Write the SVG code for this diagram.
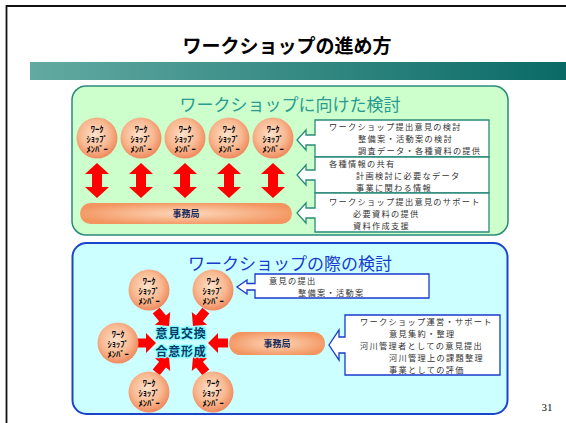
<svg xmlns="http://www.w3.org/2000/svg" width="566" height="423" viewBox="0 0 566 423">
<defs>
<style>
.jp{font-family:"Noto Sans CJK JP","Noto Sans",sans-serif}
.title{font-size:19px;font-weight:bold;fill:#000}
.sec1{font-size:17px;fill:#2a9a90}
.sec2{font-size:17px;fill:#1a3ccc}
.call{font-size:8.2px;letter-spacing:1.3px;fill:#333}
.mem{font-size:8.5px;font-weight:bold;fill:#000;text-anchor:middle}
.jim{font-size:9px;font-weight:bold;fill:#1a2a5a;text-anchor:middle}
.cg{stroke:#2a8a7a;stroke-width:1.3;fill:#fff}
.cb{stroke:#1a3acc;stroke-width:1.3;fill:#fff}
.red{fill:#ff0000}
.ctr{font-size:12px;font-weight:bold;letter-spacing:0.8px;fill:#0a3a6a;stroke:#80ffff;stroke-width:2.5px;paint-order:stroke;stroke-linejoin:round;text-anchor:middle}
</style>
<linearGradient id="bar" x1="0" y1="0" x2="1" y2="0">
<stop offset="0" stop-color="#62aaa2"/>
<stop offset="1" stop-color="#0a6a66"/>
</linearGradient>
<radialGradient id="ball" cx="0.45" cy="0.42" r="0.6">
<stop offset="0" stop-color="#fde2cc"/>
<stop offset="0.6" stop-color="#f8b890"/>
<stop offset="1" stop-color="#f0855a"/>
</radialGradient>
<radialGradient id="pill" cx="0.5" cy="0.5" r="0.55">
<stop offset="0" stop-color="#fdd8bc"/>
<stop offset="1" stop-color="#f3955f"/>
</radialGradient>
<path id="darr" d="M0,-17.5 L12,-6.5 L5,-6.5 L5,6.5 L12,6.5 L0,17.5 L-12,6.5 L-5,6.5 L-5,-6.5 L-12,-6.5 Z"/>
<path id="rarr" d="M0,0 L-10,-10 L-10,-4.5 L-20,-4.5 L-20,4.5 L-10,4.5 L-10,10 Z"/>
<g id="member">
<circle r="20.5" fill="url(#ball)"/>
<text class="jp mem" x="0" y="-6">ﾜｰｸ</text>
<text class="jp mem" x="0" y="4">ｼｮｯﾌﾟ</text>
<text class="jp mem" x="0" y="14">ﾒﾝﾊﾞｰ</text>
</g>
</defs>

<rect width="566" height="423" fill="#fff"/>
<path d="M6.5,423 V6 H566" fill="none" stroke="#111" stroke-width="1.8"/>
<text class="jp title" x="287" y="53" text-anchor="middle">ワークショップの進め方</text>
<rect x="30" y="62" width="536" height="18" fill="url(#bar)"/>

<g id="panel-top">
<rect x="72" y="86" width="436" height="149" rx="14" fill="#ccffcc" stroke="#2a8a7a" stroke-width="1.5"/>
<text class="jp sec1" x="290" y="111" text-anchor="middle">ワークショップに向けた検討</text>
</g>

<g id="panel-bottom">
<rect x="72.5" y="243" width="435" height="171" rx="14" fill="#ccffff" stroke="#1a44cc" stroke-width="2"/>
<text class="jp sec2" x="290" y="270" text-anchor="middle">ワークショップの際の検討</text>
</g>

<g id="connectors">
<use href="#darr" x="97" y="180.5" class="red"/>
<use href="#darr" x="141" y="180.5" class="red"/>
<use href="#darr" x="185" y="180.5" class="red"/>
<use href="#darr" x="229" y="180.5" class="red"/>
<use href="#darr" x="273" y="180.5" class="red"/>
<use href="#rarr" class="red" transform="translate(156,343)"/>
<use href="#rarr" class="red" transform="translate(208,343) rotate(180)"/>
<use href="#rarr" class="red" transform="translate(169,326) rotate(50)"/>
<use href="#rarr" class="red" transform="translate(193,326) rotate(130)"/>
<use href="#rarr" class="red" transform="translate(169,357) rotate(-50)"/>
<use href="#rarr" class="red" transform="translate(193,357) rotate(-130)"/>
</g>

<g id="m1"><use href="#member" x="97" y="138"/></g>
<g id="m2"><use href="#member" x="141" y="138"/></g>
<g id="m3"><use href="#member" x="185" y="138"/></g>
<g id="m4"><use href="#member" x="229" y="138"/></g>
<g id="m5"><use href="#member" x="273" y="138"/></g>

<g id="jimu-top">
<rect x="80" y="203" width="212" height="21" rx="10.5" fill="url(#pill)"/>
<text class="jp jim" x="186" y="217">事務局</text>
</g>

<g id="call-top-1">
<path class="cg" d="M315,120 H489 V157 H315 V145 H306 V150 L297,140 L306,130 V135 H315 Z"/>
<text class="jp call" x="329" y="130">ワークショップ提出意見の検討</text>
<text class="jp call" x="358" y="142">整備案・活動案の検討</text>
<text class="jp call" x="358" y="154">調査データ・各種資料の提供</text>
</g>
<g id="call-top-2">
<path class="cg" d="M315,157 H489 V193 H315 V180 H306 V185 L297,175 L306,165 V170 H315 Z"/>
<text class="jp call" x="329" y="167">各種情報の共有</text>
<text class="jp call" x="356" y="179">計画検討に必要なデータ</text>
<text class="jp call" x="356" y="191">事業に関わる情報</text>
</g>
<g id="call-top-3">
<path class="cg" d="M315,193 H489 V232 H315 V218 H306 V223 L297,213 L306,203 V208 H315 Z"/>
<text class="jp call" x="329" y="205">ワークショップ提出意見のサポート</text>
<text class="jp call" x="353" y="217">必要資料の提供</text>
<text class="jp call" x="353" y="229">資料作成支援</text>
</g>

<g id="b1"><use href="#member" x="149" y="290"/></g>
<g id="b2"><use href="#member" x="213" y="290"/></g>
<g id="b3"><use href="#member" x="118" y="343"/></g>
<g id="b4"><use href="#member" x="149" y="392"/></g>
<g id="b5"><use href="#member" x="213" y="392"/></g>

<g id="center">
<text class="jp ctr" x="181" y="338">意見交換</text>
<text class="jp ctr" x="181" y="356">合意形成</text>
</g>

<g id="jimu-bottom">
<rect x="229" y="332" width="96" height="23" rx="11.5" fill="url(#pill)"/>
<text class="jp jim" x="277" y="347">事務局</text>
</g>

<g id="call-bot-1">
<path class="cb" d="M255,274 H429 V298 H255 V290 H247 V294 L237,287 L247,280 V283.5 H255 Z"/>
<text class="jp call" x="269" y="284">意見の提出</text>
<text class="jp call" x="298" y="296">整備案・活動案</text>
</g>
<g id="call-bot-2">
<path class="cb" d="M345,315 H500 V375 H345 V353 H339 V360 L329,345 L339,330 V337 H345 Z"/>
<text class="jp call" x="360" y="325">ワークショップ運営・サポート</text>
<text class="jp call" x="389" y="337">意見集約・整理</text>
<text class="jp call" x="360" y="349">河川管理者としての意見提出</text>
<text class="jp call" x="389" y="361">河川管理上の課題整理</text>
<text class="jp call" x="389" y="373">事業としての評価</text>
</g>

<text x="547" y="411" font-family="Liberation Serif, serif" font-size="11" fill="#111" text-anchor="middle">31</text>
</svg>
